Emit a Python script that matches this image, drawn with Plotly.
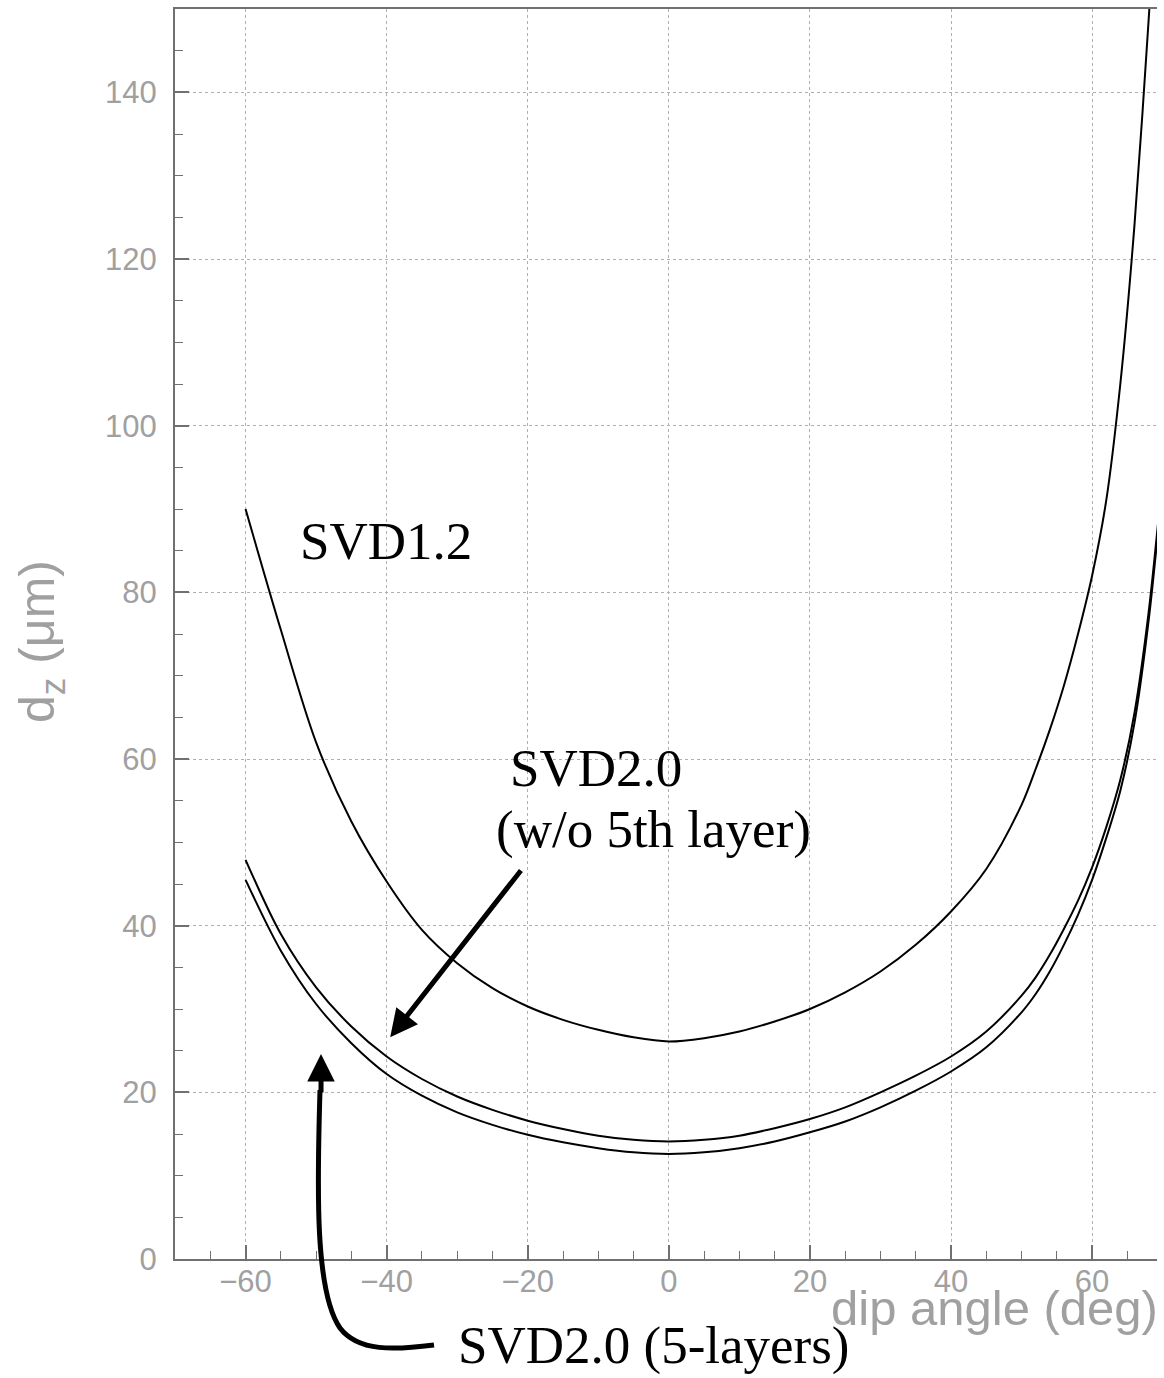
import plotly.graph_objects as go

# ---- data ----
angle = [-60, -55, -50, -45, -40, -35, -30, -25, -20, -15, -10, -5, 0, 5, 10,
         15, 20, 25, 30, 35, 40, 45, 50, 52, 54, 56, 58, 60, 62, 64, 66, 68, 70]
svd12 = [90, 75.5, 62, 52.5, 45.3, 39.5, 35.5, 32.5, 30.3, 28.7, 27.5, 26.6, 26.1, 26.5, 27.3,
         28.5, 30.0, 32.0, 34.5, 37.7, 41.7, 46.8, 54.5, 58.8, 63.5, 68.8, 75, 82, 91, 105, 124, 148.5, 175]
svd20_wo5 = [47.9, 39.0, 32.6, 27.9, 24.3, 21.6, 19.5, 17.9, 16.6, 15.6, 14.8, 14.3, 14.1, 14.3, 14.8,
             15.7, 16.8, 18.2, 20.0, 22.0, 24.3, 27.3, 31.6, 33.8, 36.5, 39.6, 43.0, 47.0, 51.8, 57.5, 65.5, 77.5, 94]
svd20_5l = [45.5, 37.0, 30.6, 25.9, 22.2, 19.6, 17.6, 16.1, 14.9, 14.0, 13.3, 12.8, 12.6, 12.8, 13.3,
            14.1, 15.2, 16.5, 18.2, 20.2, 22.5, 25.4, 29.6, 31.8, 34.5, 37.7, 41.3, 45.5, 50.5, 56.2, 64.3, 76.5, 93]

x_range = [-70, 69.2]
y_range = [0, 150]
x_ticks = [-60, -40, -20, 0, 20, 40, 60]
y_ticks = [0, 20, 40, 60, 80, 100, 120, 140]

# ---- layout geometry (pixels) ----
W, H = 1164, 1378
L, R, T, B = 175, 7, 9, 119
PW, PH = W - L - R, H - T - B


def paper(px, py):
    return (px - L) / PW, (H - B - py) / PH


fig = go.Figure()
for ys in (svd12, svd20_wo5, svd20_5l):
    fig.add_trace(go.Scatter(x=angle, y=ys, mode="lines",
                             line=dict(color="black", width=2, shape="spline", smoothing=0.9),
                             showlegend=False, hoverinfo="skip"))

serif = "Liberation Serif, Times New Roman, serif"
sans = "Liberation Sans, Arial, sans-serif"
gray = "#a0a0a0"
FS = 53

anns = []
# text labels
anns.append(dict(x=-52.6, y=86.2, xref="x", yref="y", text="SVD1.2", showarrow=False,
                 xanchor="left", yanchor="middle", font=dict(family=serif, size=FS, color="black")))
anns.append(dict(x=-22.8, y=58.9, xref="x", yref="y", text="SVD2.0", showarrow=False,
                 xanchor="left", yanchor="middle", font=dict(family=serif, size=FS, color="black")))
anns.append(dict(x=-24.8, y=51.6, xref="x", yref="y", text="(w/o 5th layer)", showarrow=False,
                 xanchor="left", yanchor="middle", font=dict(family=serif, size=FS, color="black")))
px_, py_ = paper(456, 1346)
anns.append(dict(x=px_, y=py_, xref="paper", yref="paper", text="SVD2.0 (5-layers)", showarrow=False,
                 xanchor="left", yanchor="middle", font=dict(family=serif, size=FS, color="black")))
# straight arrow
anns.append(dict(x=-39.5, y=26.6, xref="x", yref="y", ax=-20.8, ay=46.8, axref="x", ayref="y",
                 text="", showarrow=True, arrowhead=2, arrowsize=1.1, arrowwidth=5, arrowcolor="black"))
# head of curved arrow
anns.append(dict(x=-49.3, y=24.6, xref="x", yref="y", ax=0, ay=40,
                 text="", showarrow=True, arrowhead=2, arrowsize=1.1, arrowwidth=5, arrowcolor="black"))
# axis titles
px_, py_ = paper(1160, 1308)
anns.append(dict(x=px_, y=py_, xref="paper", yref="paper", text="dip angle (deg)", showarrow=False,
                 xanchor="right", yanchor="middle", font=dict(family=sans, size=49, color=gray)))
px_, py_ = paper(40, 642)
anns.append(dict(x=px_, y=py_, xref="paper", yref="paper", text="d<sub>z</sub> (μm)", showarrow=False,
                 textangle=-90, xanchor="center", yanchor="middle",
                 font=dict(family=sans, size=50, color=gray)))

# curved arrow shaft (pixel coordinates converted to paper)
pts = [(320, 1090), (317, 1190), (315, 1292), (340, 1328), (358, 1352), (395, 1350), (434, 1345)]
pp = [paper(a, b) for a, b in pts]
path = (f"M {pp[0][0]},{pp[0][1]} C {pp[1][0]},{pp[1][1]} {pp[2][0]},{pp[2][1]} {pp[3][0]},{pp[3][1]} "
        f"C {pp[4][0]},{pp[4][1]} {pp[5][0]},{pp[5][1]} {pp[6][0]},{pp[6][1]}")
shapes = [dict(type="path", xref="paper", yref="paper", path=path,
               line=dict(color="black", width=5), layer="above")]

axis_common = dict(
    showgrid=True, gridcolor="#b0b0b0", gridwidth=1, griddash="dot",
    showline=True, linecolor="#707070", linewidth=2,
    ticks="inside", ticklen=14, tickwidth=1.5, tickcolor="#707070",
    zeroline=False,
    tickfont=dict(family=sans, size=31, color=gray),
    minor=dict(ticks="inside", ticklen=8, tickwidth=1.2, tickcolor="#707070", dtick=5, showgrid=False),
)

fig.update_xaxes(range=x_range, tickvals=x_ticks, ticklabelstandoff=-6, mirror=True, **axis_common)
fig.update_yaxes(range=y_range, tickvals=y_ticks, ticklabelstandoff=10, mirror=False, **axis_common)

fig.update_layout(
    width=W, height=H,
    margin=dict(l=L, r=R, t=T, b=B),
    paper_bgcolor="white", plot_bgcolor="white",
    annotations=anns, shapes=shapes,
    showlegend=False,
)

fig.write_html("out.html", config={"displayModeBar": False})

# remove the browser's default body margin so the figure sits at the page corner
with open("out.html", "r", encoding="utf-8") as f:
    html = f.read()
html = html.replace("<head>", "<head><style>html,body{margin:0;padding:0;overflow:hidden;}</style>", 1)
with open("out.html", "w", encoding="utf-8") as f:
    f.write(html)
